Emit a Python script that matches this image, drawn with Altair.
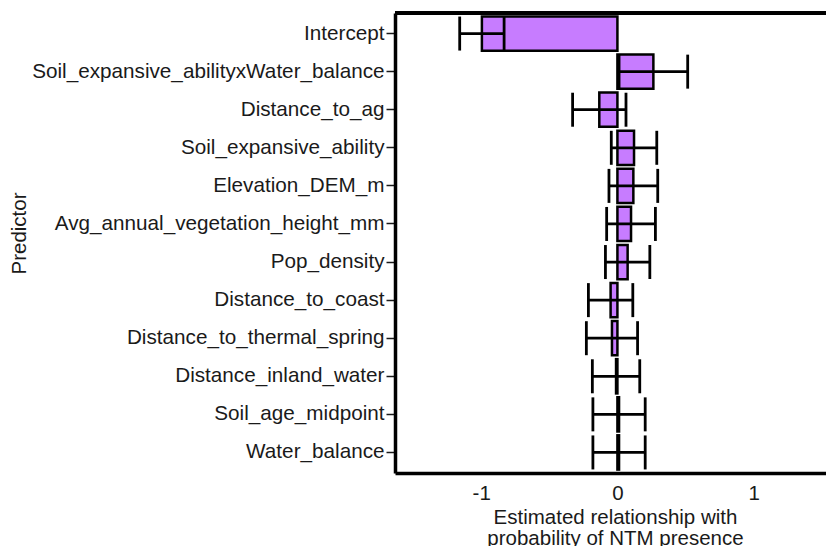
import altair as alt
import pandas as pd

predictors = [
    "Intercept",
    "Soil_expansive_abilityxWater_balance",
    "Distance_to_ag",
    "Soil_expansive_ability",
    "Elevation_DEM_m",
    "Avg_annual_vegetation_height_mm",
    "Pop_density",
    "Distance_to_coast",
    "Distance_to_thermal_spring",
    "Distance_inland_water",
    "Soil_age_midpoint",
    "Water_balance",
]
estimates = [-0.995, 0.264, -0.133, 0.122, 0.117, 0.100, 0.075, -0.050, -0.040, -0.010, 0.012, 0.012]
errors = [0.163, 0.252, 0.196, 0.167, 0.179, 0.179, 0.163, 0.163, 0.188, 0.174, 0.192, 0.192]
x_ticks = [-1, 0, 1]

df = pd.DataFrame({"predictor": predictors, "estimate": estimates, "err": errors})

FONT = "Liberation Sans"
W, H = 431, 460
XMIN = -1.633
PX_PER_UNIT = 136.2
XMAX = XMIN + W / PX_PER_UNIT

yenc = alt.Y(
    "predictor:N",
    sort=predictors,
    scale=alt.Scale(paddingInner=0.1, paddingOuter=0.09),
    axis=alt.Axis(
        title="Predictor",
        titleX=-376,
        titleY=220,
        titleAngle=270,
        titleAlign="center",
        titleBaseline="middle",
        tickSize=9,
        tickWidth=1.5,
        labelPadding=2,
        labelLimit=0,
        labelFontSize=20.7,
    ),
)
xscale = alt.Scale(domain=[XMIN, XMAX], nice=False, zero=False)

base = alt.Chart(df).transform_calculate(
    lo="datum.estimate - datum.err", hi="datum.estimate + datum.err"
)

bars = base.mark_bar(fill="#C77CFF", stroke="black", strokeWidth=2.5).encode(
    x=alt.X(
        "estimate:Q",
        scale=xscale,
        axis=alt.Axis(
            values=x_ticks,
            labelExpr="datum.value + ''",
            ticks=False,
            labelPadding=10,
            title=["Estimated relationship with", "probability of NTM presence"],
            titleBaseline="alphabetic",
            titleY=50,
            titleX=220,
            titleLineHeight=21.5,
            titleFontSize=20.5,
        ),
    ),
    y=yenc,
)

hline = base.mark_rule(color="black", strokeWidth=2.8).encode(
    x=alt.X("lo:Q", scale=xscale), x2="hi:Q", y=alt.Y("predictor:N", sort=predictors)
)
lo_tick = base.mark_tick(color="black", thickness=2.8, size=34, opacity=1).encode(
    x=alt.X("lo:Q", scale=xscale), y=alt.Y("predictor:N", sort=predictors)
)
hi_tick = base.mark_tick(color="black", thickness=2.8, size=34, opacity=1).encode(
    x=alt.X("hi:Q", scale=xscale), y=alt.Y("predictor:N", sort=predictors)
)

top_border = alt.Chart(df).mark_rule(color="black", strokeWidth=3.5).encode(
    x=alt.value(0), x2=alt.value(W), y=alt.value(0)
)

chart = (
    alt.layer(bars, hline, lo_tick, hi_tick, top_border)
    .properties(
        width=W,
        height=H,
        autosize=alt.AutoSizeParams(type="none"),
        padding={"left": 387, "top": 5, "right": 0, "bottom": 73},
        background="white",
    )
    .configure_view(stroke=None)
    .configure_axis(
        domainColor="black",
        domainWidth=3.5,
        tickColor="#1a1a1a",
        labelFont=FONT,
        labelFontSize=20.5,
        labelColor="#1a1a1a",
        titleFont=FONT,
        titleFontSize=20.5,
        titleFontWeight="normal",
        titleColor="#1a1a1a",
        grid=False,
    )
)

chart.save("out.html", embed_options={"renderer": "svg", "actions": False})
